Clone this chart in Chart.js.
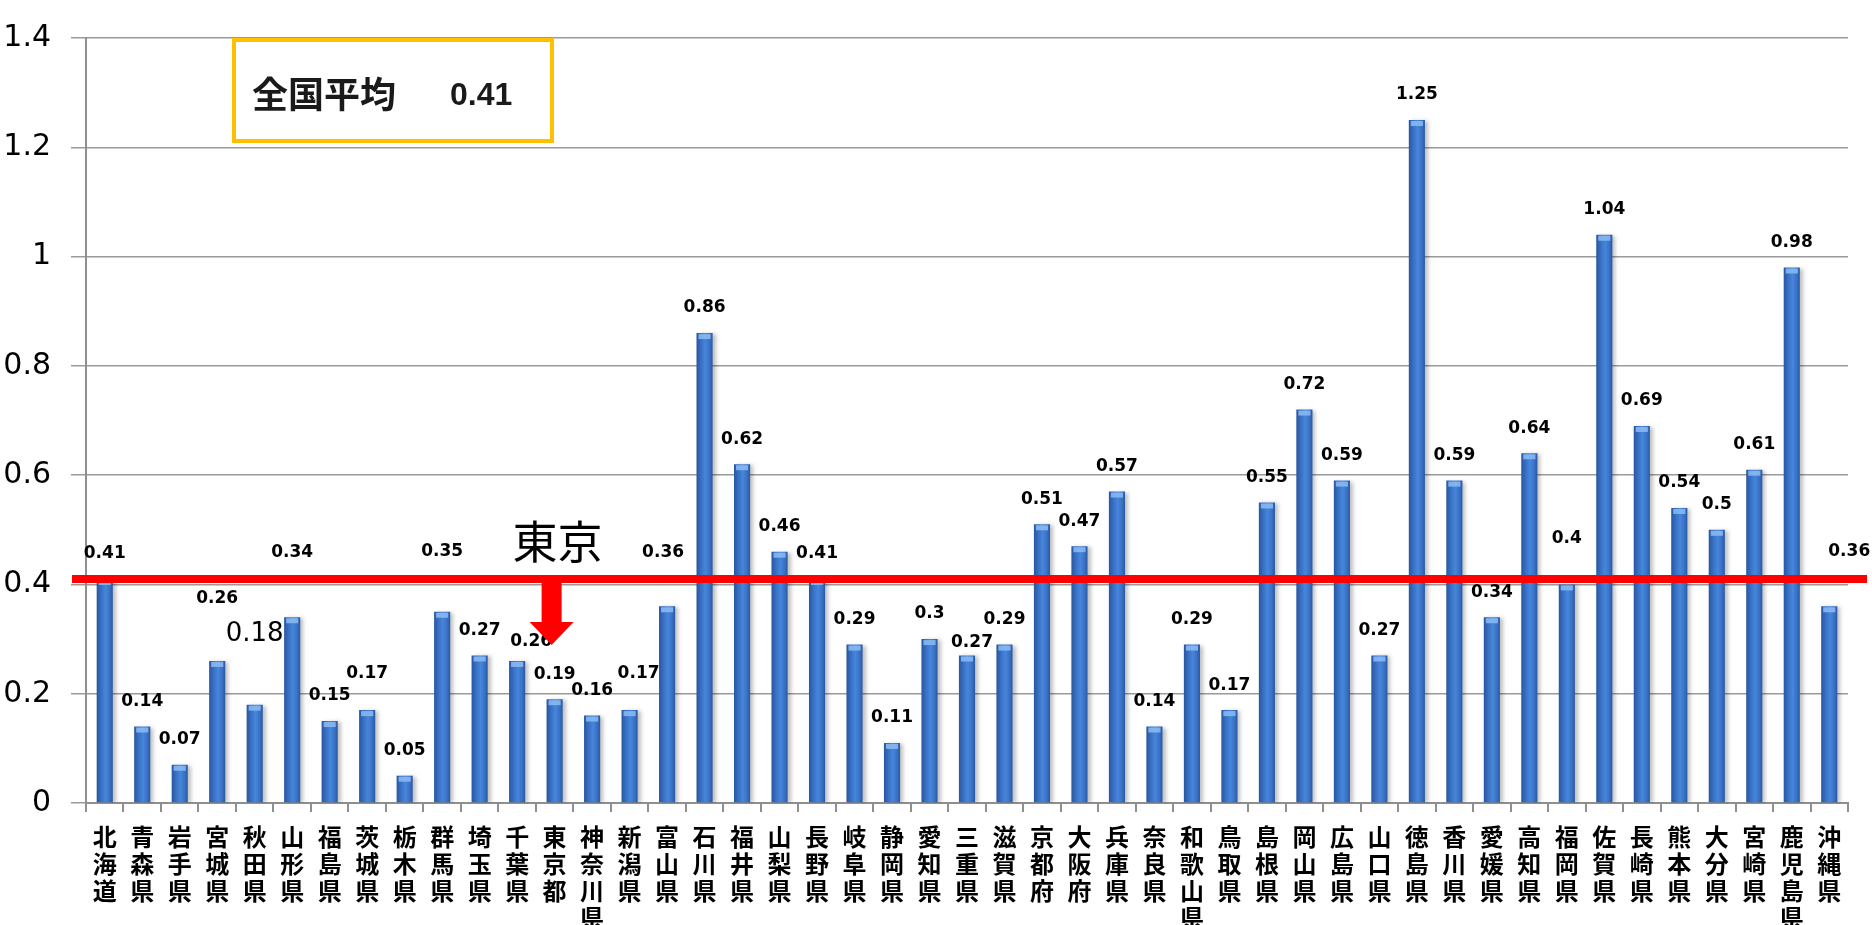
<!DOCTYPE html>
<html lang="ja">
<head>
<meta charset="utf-8">
<title>都道府県別</title>
<script src="https://cdn.jsdelivr.net/npm/chart.js@4/dist/chart.umd.min.js"></script>
<style>
	html, body { margin: 0; padding: 0; background: #fff; }
	#wrap { width: 1872px; height: 925px; }
</style>
</head>
<body>
<div id="wrap"><canvas id="main-chart" width="1872" height="925"></canvas></div>
<script>
// 都道府県ごとの値
const prefectures = [
	'北海道', '青森県', '岩手県', '宮城県', '秋田県', '山形県', '福島県', '茨城県',
	'栃木県', '群馬県', '埼玉県', '千葉県', '東京都', '神奈川県', '新潟県', '富山県',
	'石川県', '福井県', '山梨県', '長野県', '岐阜県', '静岡県', '愛知県', '三重県',
	'滋賀県', '京都府', '大阪府', '兵庫県', '奈良県', '和歌山県', '鳥取県', '島根県',
	'岡山県', '広島県', '山口県', '徳島県', '香川県', '愛媛県', '高知県', '福岡県',
	'佐賀県', '長崎県', '熊本県', '大分県', '宮崎県', '鹿児島県', '沖縄県'
];
const rates = [
	0.41, 0.14, 0.07, 0.26, 0.18, 0.34, 0.15, 0.17,
	0.05, 0.35, 0.27, 0.26, 0.19, 0.16, 0.17, 0.36,
	0.86, 0.62, 0.46, 0.41, 0.29, 0.11, 0.3, 0.27,
	0.29, 0.51, 0.47, 0.57, 0.14, 0.29, 0.17, 0.55,
	0.72, 0.59, 0.27, 1.25, 0.59, 0.34, 0.64, 0.4,
	1.04, 0.69, 0.54, 0.5, 0.61, 0.98, 0.36
];
const nationalAvg = 0.41;
const yTickLabels = ['0', '0.2', '0.4', '0.6', '0.8', '1', '1.2', '1.4'];
const markedPref = '東京都';

// hand-placed value labels: index -> [dx, dy] from the default spot
const labelNudge = {
	3: [0, -37], 4: [0, -45], 5: [0, -40], 7: [0, -12], 9: [0, -35],
	11: [14, 6], 14: [9, -12], 15: [-4, -29], 23: [5, 12], 39: [0, -21], 46: [20, -30]
};
const bigLabels = [4];

function barFill(c) {
	const chart = c.chart;
	const xs = chart.scales.x;
	if (!chart.chartArea || !xs) return '#3A72C8';
	const cx = xs.getPixelForValue(c.dataIndex);
	const half = xs.width / prefectures.length * 0.43 / 2;
	const g = chart.ctx.createLinearGradient(cx - half, 0, cx + half, 0);
	g.addColorStop(0, '#2856A0');
	g.addColorStop(0.3, '#3A72C6');
	g.addColorStop(0.55, '#4686DB');
	g.addColorStop(0.8, '#3A72C6');
	g.addColorStop(1, '#2A58A2');
	return g;
}

// soft drop shadow behind the bars
const barShadow = {
	id: 'barShadow',
	beforeDatasetsDraw(chart) {
		const ctx = chart.ctx;
		ctx.save();
		ctx.shadowColor = 'rgba(0,0,0,0.25)';
		ctx.shadowBlur = 4;
		ctx.shadowOffsetX = 3;
		ctx.shadowOffsetY = 1;
	},
	afterDatasetsDraw(chart) {
		const ctx = chart.ctx;
		ctx.restore();
		// light cap on top of each bar
		chart.getDatasetMeta(0).data.forEach(bar => {
			ctx.fillStyle = 'rgba(140,188,245,0.85)';
			ctx.fillRect(bar.x - bar.width / 2 + 2, bar.y + 1, bar.width - 4, 5);
		});
	}
};

const valueLabels = {
	id: 'valueLabels',
	afterDatasetsDraw(chart) {
		const ctx = chart.ctx;
		ctx.save();
		ctx.textAlign = 'center';
		ctx.textBaseline = 'middle';
		ctx.fillStyle = '#000';
		chart.getDatasetMeta(0).data.forEach((bar, i) => {
			const n = labelNudge[i] || [0, 0];
			ctx.font = bigLabels.includes(i) ? '26px "DejaVu Sans"' : 'bold 17px "DejaVu Sans"';
			ctx.fillText(String(rates[i]), bar.x + n[0], bar.y - 25 + n[1]);
		});
		ctx.restore();
	}
};

// red average line, arrow to Tokyo and the average box
const avgMarks = {
	id: 'avgMarks',
	afterDatasetsDraw(chart) {
		const ctx = chart.ctx;
		const area = chart.chartArea;
		const y = chart.scales.y.getPixelForValue(nationalAvg);
		ctx.save();
		ctx.strokeStyle = '#FF0000';
		ctx.lineWidth = 8;
		ctx.beginPath();
		ctx.moveTo(area.left - 14, y);
		ctx.lineTo(area.right + 19, y);
		ctx.stroke();

		const x = chart.scales.x.getPixelForValue(prefectures.indexOf(markedPref)) - 3;
		ctx.fillStyle = '#FF0000';
		ctx.fillRect(x - 10, y + 3, 20, 41);
		ctx.beginPath();
		ctx.moveTo(x - 22, y + 43);
		ctx.lineTo(x + 22, y + 43);
		ctx.lineTo(x, y + 66);
		ctx.closePath();
		ctx.fill();

		ctx.fillStyle = '#000';
		ctx.font = '45px "Noto Sans CJK JP"';
		ctx.textAlign = 'center';
		ctx.textBaseline = 'middle';
		ctx.fillText('東京', x + 6, y - 37);
		ctx.restore();
	},
	afterDraw(chart) {
		const ctx = chart.ctx;
		const area = chart.chartArea;
		const bx = area.left + 146, by = area.top;
		ctx.save();
		ctx.fillStyle = '#fff';
		ctx.fillRect(bx, by, 322, 105);
		ctx.strokeStyle = '#FFC000';
		ctx.lineWidth = 4;
		ctx.strokeRect(bx + 2, by + 2, 318, 101);
		ctx.fillStyle = '#1a1a1a';
		ctx.textBaseline = 'middle';
		ctx.textAlign = 'left';
		ctx.font = 'bold 36px "Noto Sans CJK JP"';
		ctx.fillText('全国平均', bx + 20, by + 56);
		ctx.font = 'bold 32px "Liberation Sans"';
		ctx.fillText(String(nationalAvg), bx + 218, by + 58);
		ctx.restore();
	}
};

function make() {
	const ctx = document.getElementById('main-chart');
	return new Chart(ctx, {
		type: 'bar',
		data: {
			labels: prefectures.map(p => p.split('')),
			datasets: [{
				data: rates,
				backgroundColor: barFill,
				borderWidth: 0,
				categoryPercentage: 1,
				barPercentage: 0.43
			}]
		},
		options: {
			responsive: false,
			animation: false,
			devicePixelRatio: 1,
			layout: { padding: { top: 32, right: 24, left: 0, bottom: 0 } },
			plugins: { legend: { display: false }, tooltip: { enabled: false } },
			scales: {
				x: {
					afterFit: s => { s.height = 122; },
					grid: { display: true, drawOnChartArea: false, tickLength: 9, color: '#8f8f8f', lineWidth: 2 },
					border: { color: '#8f8f8f', width: 2 },
					ticks: {
						autoSkip: false, maxRotation: 0, minRotation: 0, padding: 11,
						color: '#000',
						font: { family: '"Noto Sans CJK JP"', size: 24, weight: 'bold', lineHeight: 1.125 }
					}
				},
				y: {
					min: 0, max: 1.4,
					afterFit: s => { s.width = 86; },
					grid: { color: '#9a9a9a', lineWidth: 1.5, tickLength: 15 },
					border: { color: '#8f8f8f', width: 2 },
					ticks: {
						stepSize: 0.2, padding: 20, color: '#000',
						font: { family: '"DejaVu Sans"', size: 30 },
						callback: (v, i) => yTickLabels[i]
					}
				}
			}
		},
		plugins: [barShadow, valueLabels, avgMarks]
	});
}

make();
</script>
</body>
</html>
